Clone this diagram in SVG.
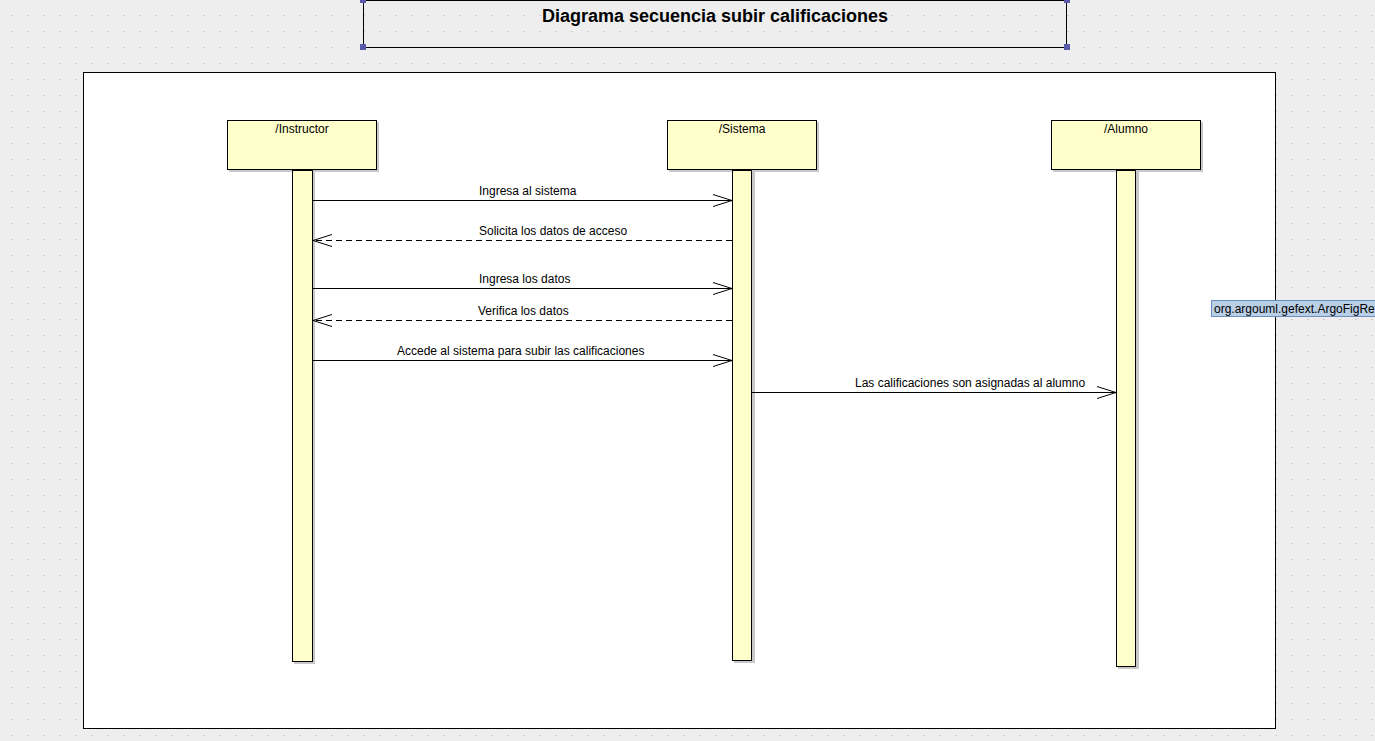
<svg xmlns="http://www.w3.org/2000/svg" width="1375" height="741" viewBox="0 0 1375 741">
<style>
text{font-family:"Liberation Sans",Arial,sans-serif;fill:#000}
.lbl{font-size:12px}
.head{fill:#ffffcc;stroke:#000;stroke-width:1}
.bar{fill:#ffffcc;stroke:#000;stroke-width:1}
.shadow{fill:#c8c8c8}
.msg{stroke:#000;stroke-width:1;fill:none}
.dash{stroke-dasharray:6,4}
.handle{fill:#5a5aaa}
</style>
<defs>
<pattern id="grid" width="16" height="16" patternUnits="userSpaceOnUse">
<rect x="11" y="15" width="2" height="2" fill="#cccccc"/>
</pattern>
<marker id="open" markerWidth="22" markerHeight="14" refX="20" refY="7" orient="auto" markerUnits="userSpaceOnUse">
<path d="M1,1 L20,7 L1,13" fill="none" stroke="#000" stroke-width="1"/>
</marker>
</defs>
<rect width="1375" height="741" fill="#eeeeee"/>
<rect width="1375" height="741" fill="url(#grid)"/>
<g id="title">
<rect x="363.5" y="0.5" width="703" height="47" fill="none" stroke="#000" stroke-width="1"/>
<rect class="handle" x="360" y="-3" width="6" height="6"/>
<rect class="handle" x="1064" y="-3" width="6" height="6"/>
<rect class="handle" x="360" y="44" width="6" height="6"/>
<rect class="handle" x="1064" y="44" width="6" height="6"/>
<text x="715" y="21.5" font-size="18" font-weight="bold" text-anchor="middle">Diagrama secuencia subir calificaciones</text>
</g>
<g id="frame">
<rect x="83.5" y="72.5" width="1192" height="656" fill="#ffffff" stroke="#000" stroke-width="1"/>
</g>
<g id="instructor">
<rect class="shadow" x="229" y="122" width="150" height="50"/>
<rect class="head" x="227.5" y="120.5" width="149" height="49"/>
<text class="lbl" x="302" y="133" text-anchor="middle">/Instructor</text>
<rect class="shadow" x="294" y="172" width="21" height="492"/>
<rect class="bar" x="292.5" y="170.5" width="20" height="491"/>
</g>
<g id="sistema">
<rect class="shadow" x="669" y="122" width="150" height="50"/>
<rect class="head" x="667.5" y="120.5" width="149" height="49"/>
<text class="lbl" x="742" y="133" text-anchor="middle">/Sistema</text>
<rect class="shadow" x="734" y="172" width="21" height="491"/>
<rect class="bar" x="732.5" y="170.5" width="19" height="490"/>
</g>
<g id="alumno">
<rect class="shadow" x="1053" y="122" width="150" height="50"/>
<rect class="head" x="1051.5" y="120.5" width="149" height="49"/>
<text class="lbl" x="1126" y="133" text-anchor="middle">/Alumno</text>
<rect class="shadow" x="1118" y="172" width="21" height="497"/>
<rect class="bar" x="1116.5" y="170.5" width="19" height="496"/>
</g>
<g id="connectors">
<line class="msg" x1="313" y1="200.5" x2="732" y2="200.5" marker-end="url(#open)"/>
<text class="lbl" x="479" y="195">Ingresa al sistema</text>
<line class="msg dash" x1="732" y1="240.5" x2="313" y2="240.5" marker-end="url(#open)"/>
<text class="lbl" x="479" y="235">Solicita los datos de acceso</text>
<line class="msg" x1="313" y1="288.5" x2="732" y2="288.5" marker-end="url(#open)"/>
<text class="lbl" x="479" y="283">Ingresa los datos</text>
<line class="msg dash" x1="732" y1="320.5" x2="313" y2="320.5" marker-end="url(#open)"/>
<text class="lbl" x="478" y="315">Verifica los datos</text>
<line class="msg" x1="313" y1="360.5" x2="732" y2="360.5" marker-end="url(#open)"/>
<text class="lbl" x="397" y="355">Accede al sistema para subir las calificaciones</text>
<line class="msg" x1="752" y1="392.5" x2="1116" y2="392.5" marker-end="url(#open)"/>
<text class="lbl" x="855" y="387">Las calificaciones son asignadas al alumno</text>
</g>
<g id="tooltip">
<rect x="1211.5" y="300.5" width="170" height="16" fill="#b8cfe5" stroke="#6d8fc0" stroke-width="1"/>
<text class="lbl" x="1214" y="313" fill="#222">org.argouml.gefext.ArgoFigRe</text>
</g>
</svg>
